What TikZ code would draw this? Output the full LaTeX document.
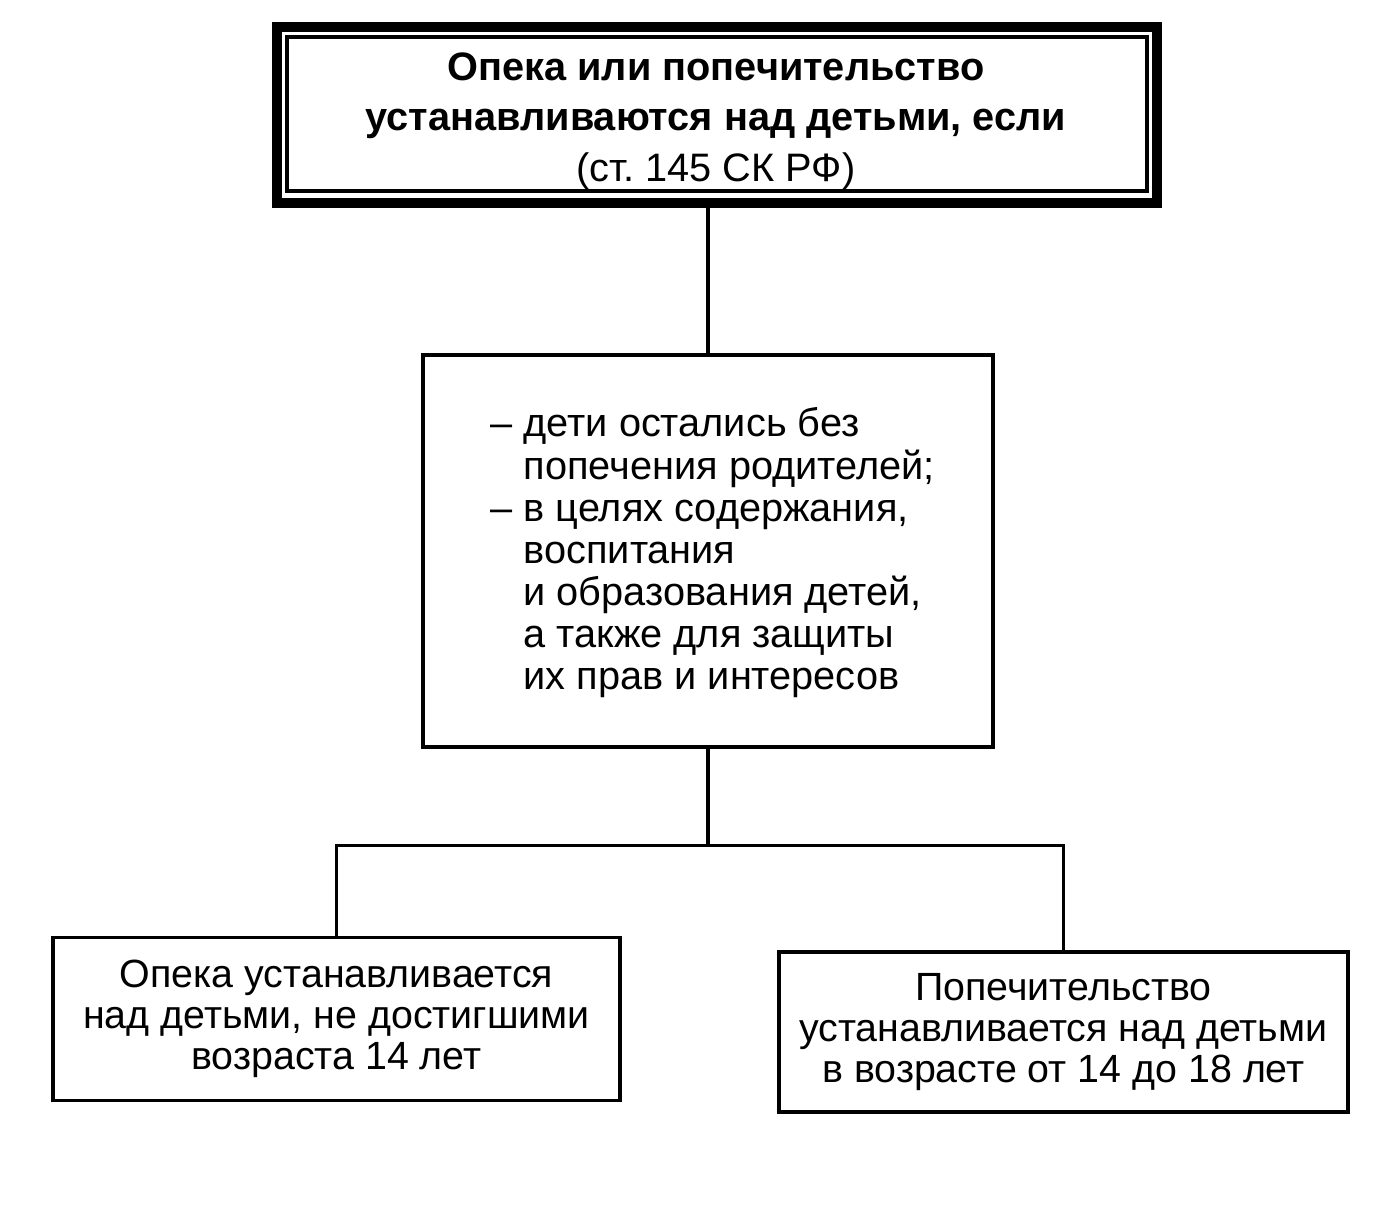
\documentclass[tikz,border=0pt]{standalone}
\usepackage{fontspec}
\setmainfont{Liberation Sans}
\frenchspacing

\begin{document}
\begin{tikzpicture}
    [ box/.style={draw,shape=rectangle,line width=0.9pt,inner sep=0pt}
    , every node/.style={font=\fontsize{11.2}{11.7}\selectfont}
    , link/.style={line width=0.9pt}
    ]

    \useasboundingbox (0,0) rectangle (13.76,-12.05);

    % head box with double frame
    \node [box, line width=2.8pt, minimum width=8.80cm, minimum height=1.76cm] (headout) at (7.17,-1.15) {};
    \node [box, minimum width=8.60cm, minimum height=1.54cm] (head) at (7.17,-1.14) {};
    \node [align=center, font=\fontsize{11.3}{14.4}\selectfont] (headtext) at (7.16,-1.21)
      {\textbf{Опека или попечительство}\\ \textbf{устанавливаются над детьми, если}\\ (ст. 145 СК РФ)};

    % reasons
    \node [box, minimum width=5.70cm, minimum height=3.92cm] (mid) at (7.08,-5.51) {};
    \node [anchor=west, align=left, inner sep=0pt, font=\fontsize{11.3}{12}\selectfont] (reasons) at (5.23,-5.53)
      {\llap{– }дети остались без\\ попечения родителей;\\ \llap{– }в целях содержания,\\ воспитания\\ и образования детей,\\ а также для защиты\\ их прав и интересов};

    % two kinds
    \node [box, minimum width=5.67cm, minimum height=1.63cm, align=center] (opeka) at (3.365,-10.19)
      {Опека устанавливается\\ над детьми, не достигшими\\ возраста 14 лет};
    \node [box, minimum width=5.69cm, minimum height=1.60cm, align=center] (popech) at (10.635,-10.32)
      {Попечительство\\ устанавливается над детьми\\ в возрасте от 14 до 18 лет};

    \draw [link] (mid.north) -- (mid.north |- headout.south);
    \draw [link] (mid.south) -- ++(0,-0.97) coordinate (fork);
    \draw [link] (opeka.north) |- (fork) -| (popech.north);

\end{tikzpicture}
\end{document}
